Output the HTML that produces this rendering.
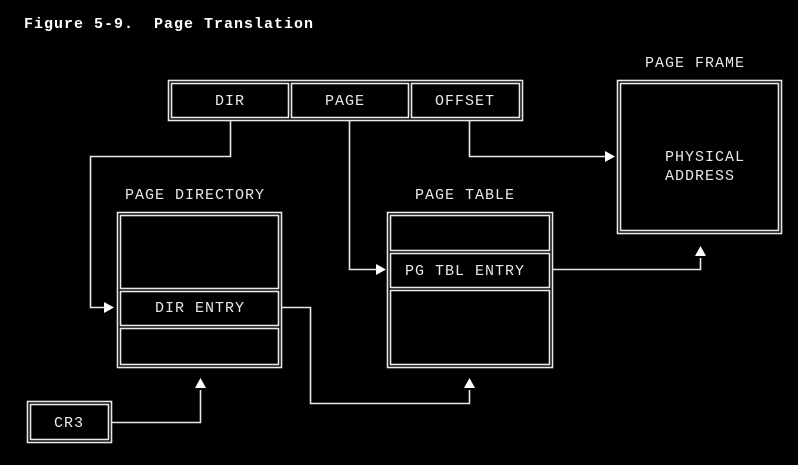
<!DOCTYPE html>
<html><head><style>
body{margin:0;background:#000;width:798px;height:460px;overflow:hidden}
svg text{font-family:"Liberation Mono",monospace;fill:#e8e8e8;font-size:15px;letter-spacing:1px}
</style></head><body>
<svg width="798" height="460" xmlns="http://www.w3.org/2000/svg">
<rect width="798" height="460" fill="#000"/>
<text x="24" y="28" style="font-weight:bold;font-size:15px;fill:#fff;letter-spacing:1px" xml:space="preserve">Figure 5-9.  Page Translation</text>
<g fill="none" stroke="#e8e8e8" stroke-width="1.6">
<rect x="168.5" y="80.5" width="354" height="40"/>
<rect x="171.5" y="83.5" width="117" height="34"/>
<rect x="291.5" y="83.5" width="117" height="34"/>
<rect x="411.5" y="83.5" width="108" height="34"/>
<rect x="617.5" y="80.5" width="164" height="153"/>
<rect x="620.5" y="83.5" width="158" height="147"/>
<rect x="117.5" y="212.5" width="164" height="155"/>
<rect x="120.5" y="215.5" width="158" height="73"/>
<rect x="120.5" y="291.5" width="158" height="34"/>
<rect x="120.5" y="328.5" width="158" height="36"/>
<rect x="387.5" y="212.5" width="165" height="155"/>
<rect x="390.5" y="215.5" width="159" height="35"/>
<rect x="390.5" y="253.5" width="159" height="34"/>
<rect x="390.5" y="290.5" width="159" height="74"/>
<rect x="27.5" y="401.5" width="84" height="41"/>
<rect x="30.5" y="404.5" width="78" height="35"/>
<polyline points="230.5,120 230.5,156.5 90.5,156.5 90.5,307.5 105,307.5"/>
<polyline points="349.5,120 349.5,269.5 377,269.5"/>
<polyline points="469.5,120 469.5,156.5 606,156.5"/>
<polyline points="552,269.5 700.5,269.5 700.5,258"/>
<polyline points="281,307.5 310.5,307.5 310.5,403.5 469.5,403.5 469.5,390"/>
<polyline points="111,422.5 200.5,422.5 200.5,390"/>
</g>
<g fill="#fff">
<polygon points="114,307.5 104,302 104,313"/>
<polygon points="386,269.5 376,264 376,275"/>
<polygon points="615,156.5 605,151 605,162"/>
<polygon points="700.5,246 695,256 706,256"/>
<polygon points="469.5,378 464,388 475,388"/>
<polygon points="200.5,378 195,388 206,388"/>
</g>
<text x="230" y="105" text-anchor="middle">DIR</text>
<text x="345" y="105" text-anchor="middle">PAGE</text>
<text x="465" y="105" text-anchor="middle">OFFSET</text>
<text x="695" y="67" text-anchor="middle">PAGE FRAME</text>
<text x="705" y="161" text-anchor="middle">PHYSICAL</text>
<text x="700" y="180" text-anchor="middle">ADDRESS</text>
<text x="195" y="199" text-anchor="middle">PAGE DIRECTORY</text>
<text x="465" y="199" text-anchor="middle">PAGE TABLE</text>
<text x="200" y="312" text-anchor="middle">DIR ENTRY</text>
<text x="465" y="275" text-anchor="middle">PG TBL ENTRY</text>
<text x="69" y="427" text-anchor="middle">CR3</text>
</svg>
</body></html>
